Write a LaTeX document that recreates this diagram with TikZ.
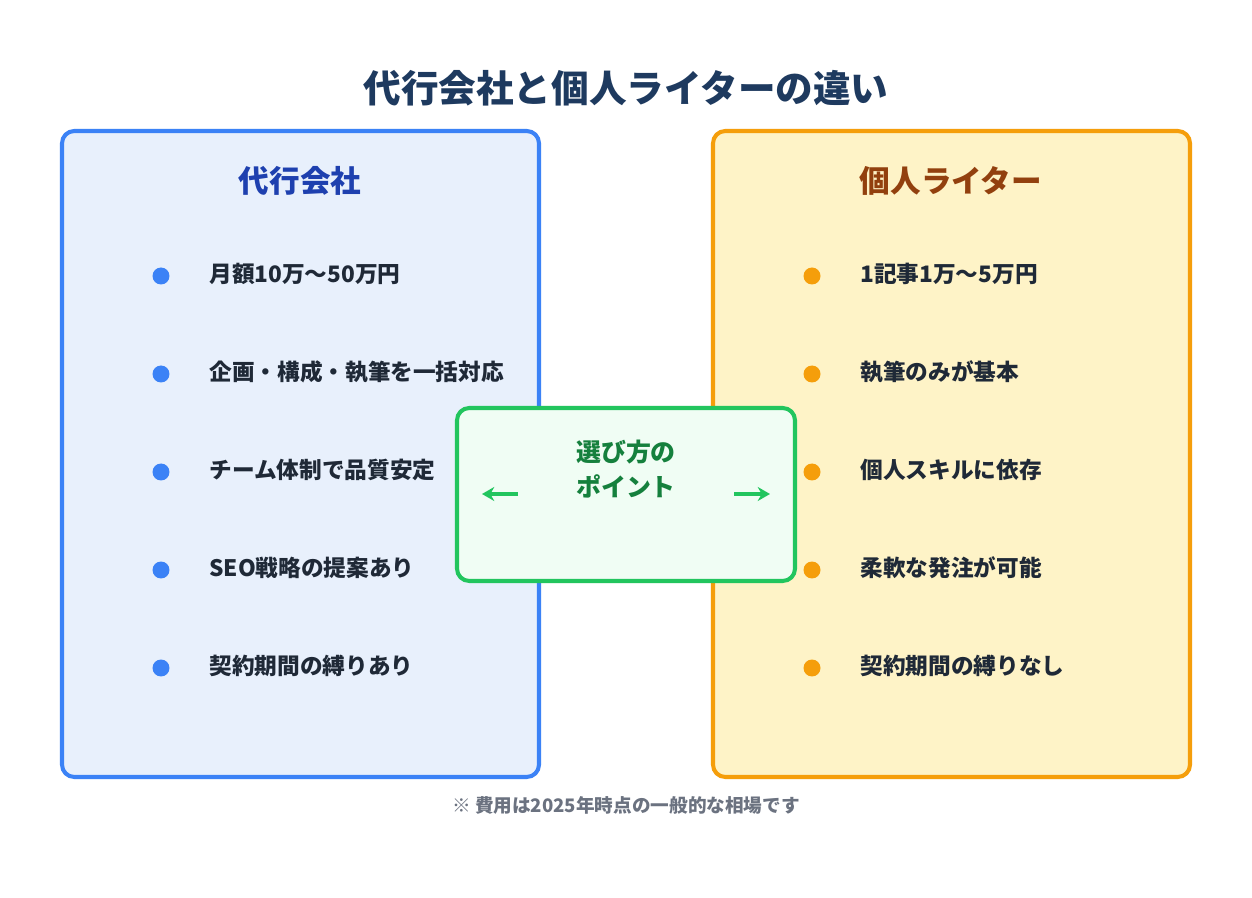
\documentclass[tikz,border=0pt]{standalone}
\usepackage{fontspec}
\setmainfont{Noto Sans CJK JP}
\usetikzlibrary{arrows.meta}
\definecolor{titleblue}{HTML}{1E3A5F}
\definecolor{agencyline}{HTML}{3B82F6}
\definecolor{agencyfill}{HTML}{E8F0FC}
\definecolor{agencytext}{HTML}{1E40AF}
\definecolor{writerline}{HTML}{F59E0B}
\definecolor{writerfill}{HTML}{FEF3C7}
\definecolor{writertext}{HTML}{92400E}
\definecolor{pointline}{HTML}{22C55E}
\definecolor{pointfill}{HTML}{F0FDF4}
\definecolor{pointtext}{HTML}{15803D}
\definecolor{itemtext}{HTML}{1F2937}
\definecolor{notetext}{HTML}{6B7280}
\tikzset{
  panel/.style={rounded corners=7pt,line width=2.3pt},
  item/.style={anchor=west,font=\bfseries\fontsize{12.9}{15}\selectfont,text=itemtext,inner sep=0pt},
  dot/.style={circle,inner sep=0pt,minimum size=0.34cm},
  head/.style={font=\bfseries\fontsize{17.4}{20}\selectfont},
  pointer/.style={-{Stealth[length=7pt,width=8pt]},line width=2pt,draw=pointline}
}
\begin{document}
\begin{tikzpicture}[x=0.02cm,y=-0.02cm]
\useasboundingbox[fill=white] (0,0) rectangle (1252,898);

% title
\node[font=\bfseries\fontsize{21.4}{25}\selectfont,text=titleblue] (title) at (626,88) {代行会社と個人ライターの違い};

% panels
\draw[panel,draw=agencyline,fill=agencyfill] (62,131) rectangle (539,777);
\draw[panel,draw=writerline,fill=writerfill] (713,131) rectangle (1190,777);
\node[head,text=agencytext] (agency) at (300,181) {代行会社};
\node[head,text=writertext] (writer) at (951,181) {個人ライター};

% items
\foreach \t [count=\i] in {月額10万〜50万円,企画・構成・執筆を一括対応,チーム体制で品質安定,SEO戦略の提案あり,契約期間の縛りあり}{
  \node[dot,fill=agencyline] (ad\i) at (161,178+98*\i) {};
  \node[item] (at\i) at (209,176+98*\i) {\t};
}
\foreach \t [count=\i] in {1記事1万〜5万円,執筆のみが基本,個人スキルに依存,柔軟な発注が可能,契約期間の縛りなし}{
  \node[dot,fill=writerline] (wd\i) at (812,178+98*\i) {};
  \node[item] (wt\i) at (860,176+98*\i) {\t};
}

% center
\draw[panel,draw=pointline,fill=pointfill] (457,408) rectangle (795,581);
\node[font=\bfseries\fontsize{14.2}{20}\selectfont,text=pointtext,align=center] (point) at (626,469) {選び方の\\ポイント};
\coordinate (la) at (518,494);
\coordinate (lb) at (482,494);
\coordinate (ra) at (734,494);
\coordinate (rb) at (770,494);
\draw[pointer] (la) -- (lb);
\draw[pointer] (ra) -- (rb);

% note
\node[font=\bfseries\fontsize{10.6}{13}\selectfont,text=notetext] (note) at (626,805) {※ 費用は2025年時点の一般的な相場です};
\end{tikzpicture}
\end{document}
